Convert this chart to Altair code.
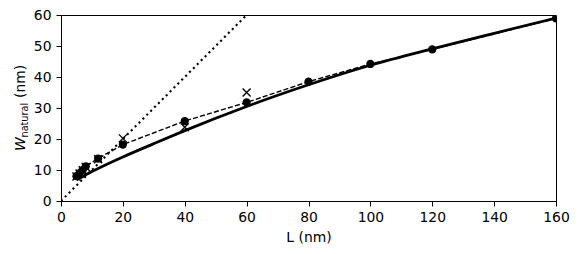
import altair as alt
import pandas as pd

# Measured points (circles, joined by a dashed line)
circle_L = [5, 6, 7, 8, 12, 20, 40, 60, 80, 100, 120, 160]
circle_W = [8.0, 9.0, 10.0, 11.2, 13.7, 18.2, 25.8, 31.8, 38.5, 44.2, 48.9, 58.9]

# Second set (x markers)
cross_L = [5, 6, 7, 8, 12, 20, 40, 60]
cross_W = [7.9, 8.9, 9.9, 11.0, 13.5, 20.2, 23.8, 35.0]

# Model curve (solid line)
curve_L = [5, 8, 12, 20, 30, 40, 50, 60, 80, 100, 120, 140, 160]
curve_W = [6.8, 8.5, 10.5, 14.2, 18.5, 22.7, 26.7, 30.5, 37.5, 43.8, 49.1, 54.1, 59.0]

# Reference line W = L (dotted)
diag_L = [0, 60]
diag_W = [0, 60]

FONT = "DejaVu Sans"
FS = 13.9

xs = alt.Scale(domain=[0, 160], nice=False, zero=False)
ys = alt.Scale(domain=[0, 60], nice=False, zero=False)

x_axis = alt.Axis(values=[0, 20, 40, 60, 80, 100, 120, 140, 160], title="L (nm)",
                  grid=False, tickSize=5, labelPadding=4, titlePadding=7,
                  labelFlush=False, labelOverlap=False)
y_axis = alt.Axis(values=[0, 10, 20, 30, 40, 50, 60], title=None,
                  grid=False, tickSize=5, labelPadding=5,
                  labelFlush=False, labelOverlap=False)

circles = pd.DataFrame({"L": circle_L, "W": circle_W})
crosses = pd.DataFrame({"L": cross_L, "W": cross_W})
curve = pd.DataFrame({"L": curve_L, "W": curve_W})
diag = pd.DataFrame({"L": diag_L, "W": diag_W})

X = alt.X("L:Q", scale=xs, axis=x_axis)
Y = alt.Y("W:Q", scale=ys, axis=y_axis)

diag_line = alt.Chart(diag).mark_line(color="black", strokeWidth=2.1,
                                      strokeDash=[2.1, 3.4], clip=True).encode(x=X, y=Y)
curve_line = alt.Chart(curve).mark_line(color="black", strokeWidth=2.8,
                                        interpolate="monotone", clip=True).encode(x=X, y=Y)
dashed_line = alt.Chart(circles).mark_line(color="black", strokeWidth=1.4,
                                           strokeDash=[5.1, 2.2], clip=True).encode(x=X, y=Y)
cross_pts = alt.Chart(crosses).mark_point(shape="M-1,-1L1,1M-1,1L1,-1", filled=False,
                                          color="black", strokeWidth=1.4, size=64,
                                          opacity=1, clip=True).encode(x=X, y=Y)
circle_pts = alt.Chart(circles).mark_point(shape="circle", filled=True, color="black",
                                           size=68, opacity=1, clip=True).encode(x=X, y=Y)

# Y axis title: W_natural (nm), built from rotated text pieces
lab_W = alt.Chart(pd.DataFrame({"t": ["W"]})).mark_text(
    angle=270, align="left", baseline="alphabetic", font=FONT, fontSize=FS,
    fontStyle="italic", color="black").encode(
    text="t:N", x=alt.value(-36.5), y=alt.value(136))
lab_sub = alt.Chart(pd.DataFrame({"t": ["natural"]})).mark_text(
    angle=270, align="left", baseline="alphabetic", font=FONT, fontSize=9.7,
    color="black").encode(
    text="t:N", x=alt.value(-33.5), y=alt.value(122.5))
lab_nm = alt.Chart(pd.DataFrame({"t": ["(nm)"]})).mark_text(
    angle=270, align="left", baseline="alphabetic", font=FONT, fontSize=FS,
    color="black").encode(
    text="t:N", x=alt.value(-36.5), y=alt.value(83))

chart = alt.layer(
    diag_line, curve_line, dashed_line, cross_pts, circle_pts, lab_W, lab_sub, lab_nm
).properties(
    width=495, height=186,
    autosize=alt.AutoSizeParams(type="none"),
    padding={"left": 53, "top": 7, "right": 15, "bottom": 44},
).configure_view(
    stroke="black", strokeWidth=1
).configure_axis(
    labelFont=FONT, labelFontSize=FS, labelColor="black",
    titleFont=FONT, titleFontSize=FS, titleColor="black", titleFontWeight="normal",
    tickColor="black", domainColor="black", domainWidth=1, tickWidth=1,
)

chart.save("out.html", embed_options={"renderer": "svg", "actions": False})
